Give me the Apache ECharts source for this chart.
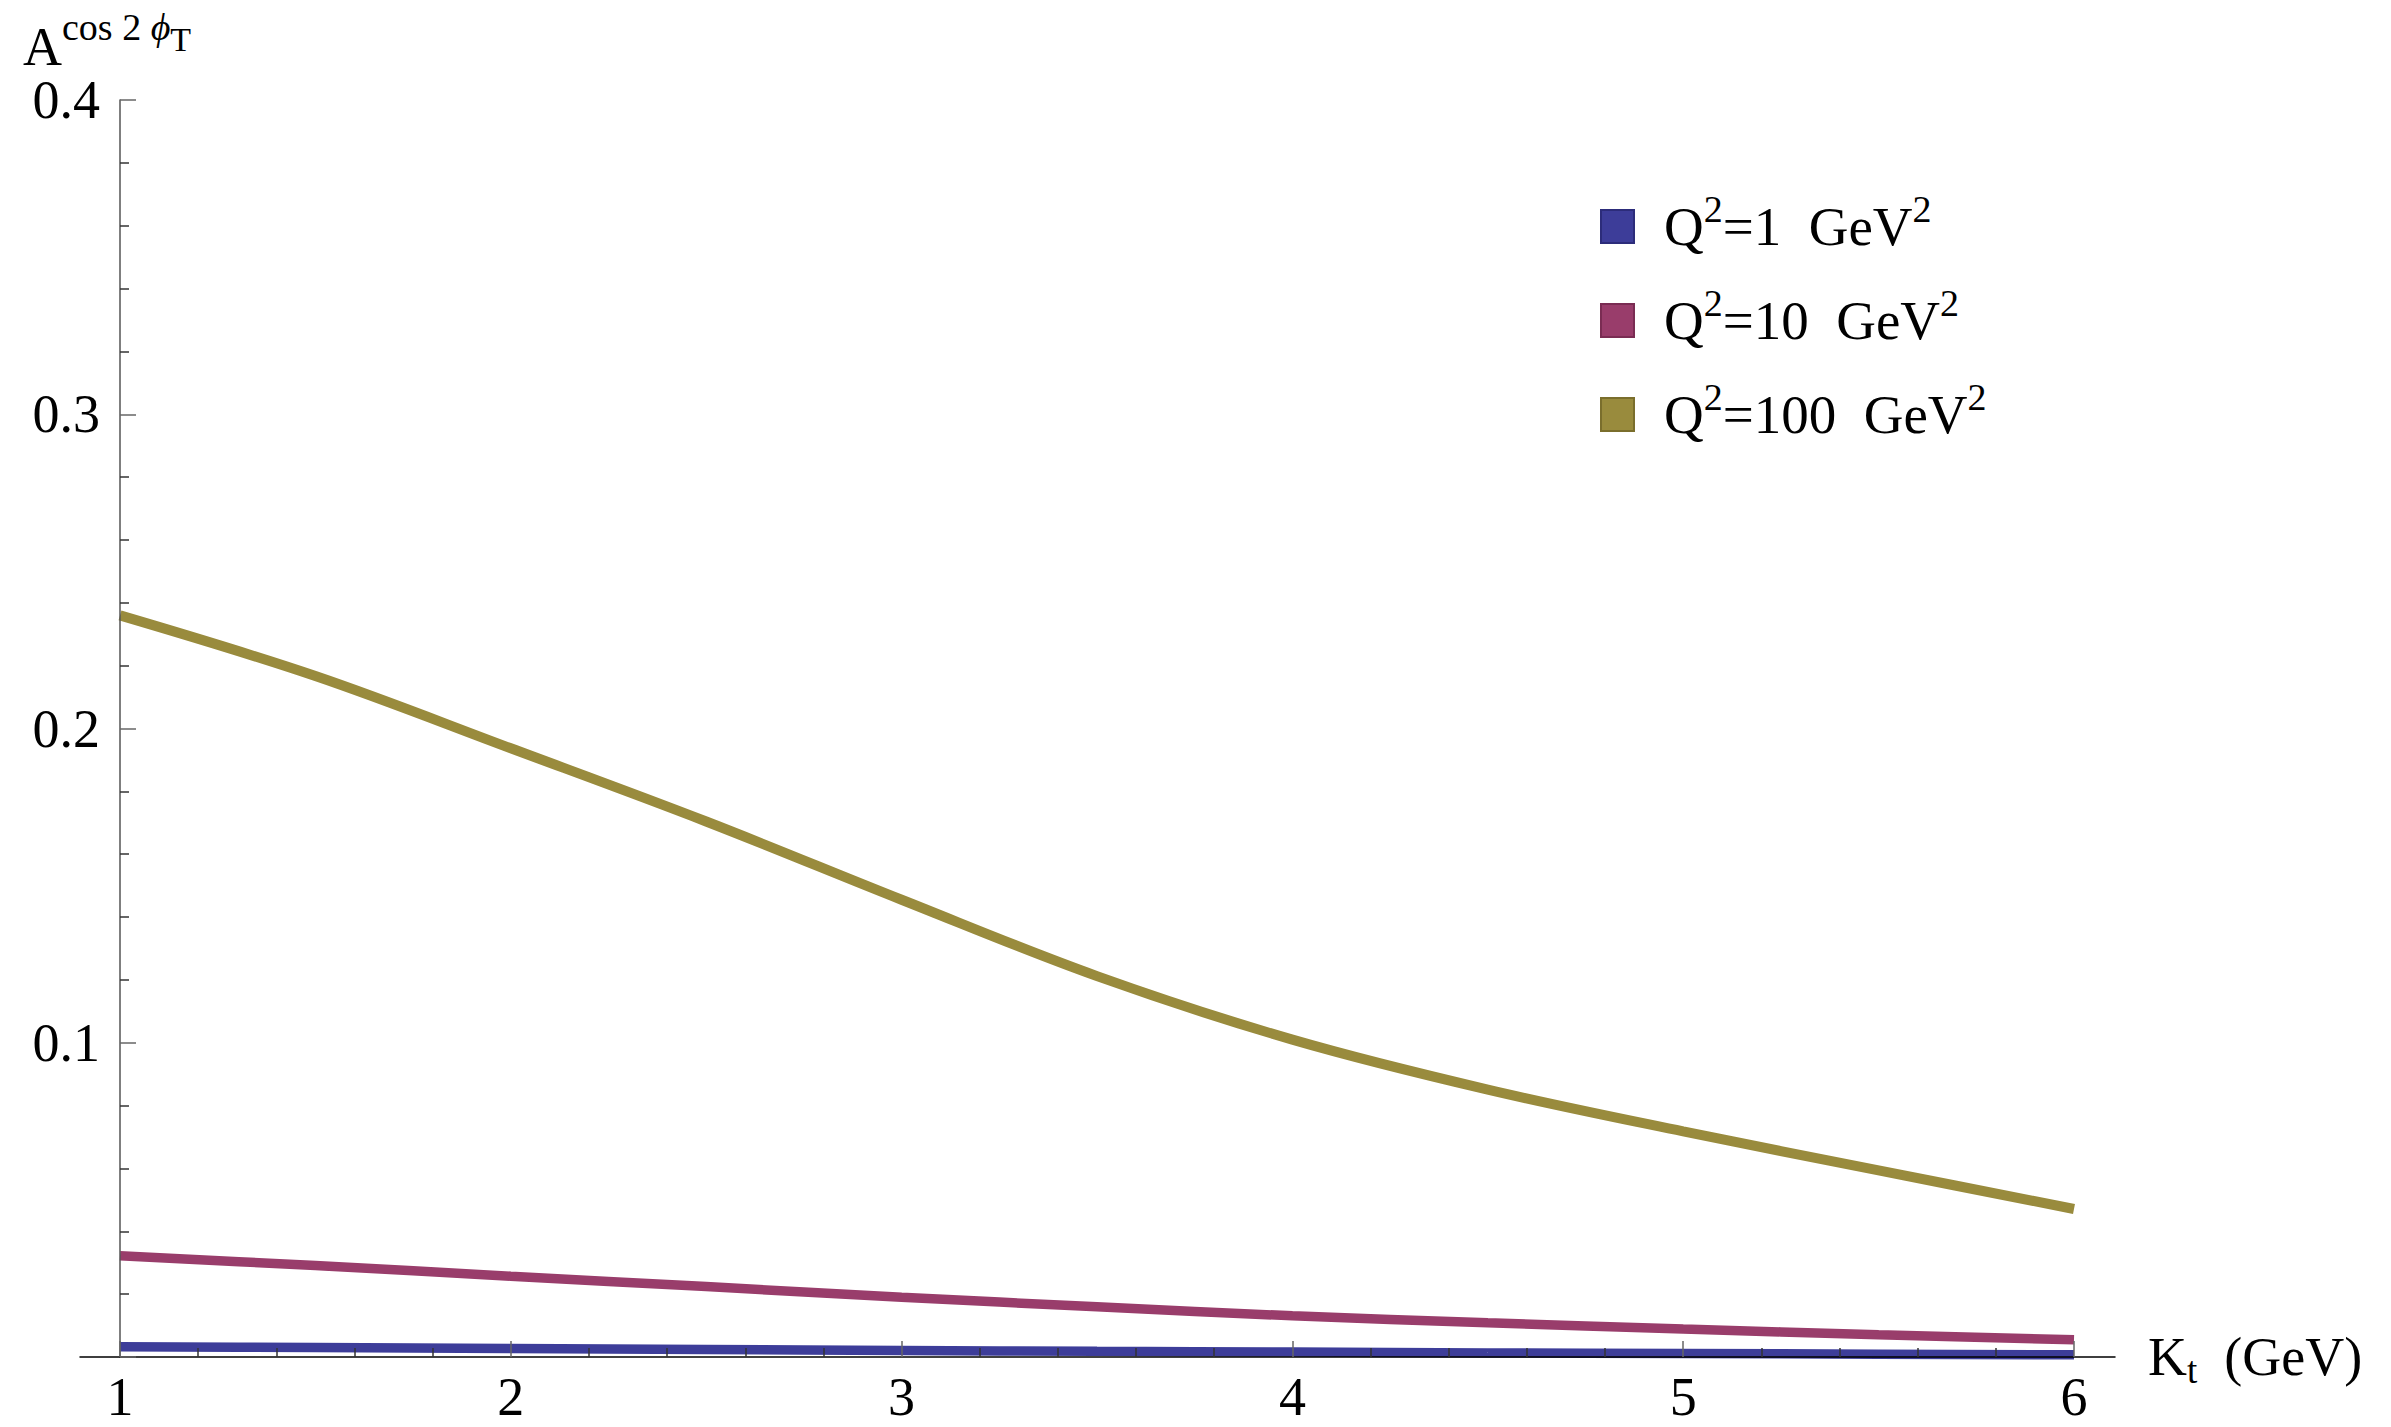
<!DOCTYPE html>
<html><head><meta charset="utf-8">
<script src="https://cdn.jsdelivr.net/npm/echarts@6/dist/echarts.min.js"></script>
<style>html,body{margin:0;padding:0;background:#fff}#c{width:2391px;height:1427px}</style>
</head><body><div id="c"></div>
<script>
// ---- data ----
const kt = [1, 1.5, 2, 2.5, 3, 3.5, 4, 4.5, 5, 5.5, 6];
const q2Values = [1, 10, 100];
const seriesNames = ['Q²=1 GeV²', 'Q²=10 GeV²', 'Q²=100 GeV²'];
const aQ1   = [0.0033, 0.0030, 0.0027, 0.0024, 0.0021, 0.0018, 0.0016, 0.0013, 0.0011, 0.0009, 0.0007];
const aQ10  = [0.0322, 0.0291, 0.0257, 0.0224, 0.0190, 0.0160, 0.0131, 0.0109, 0.0089, 0.0071, 0.0055];
const aQ100 = [0.2360, 0.2167, 0.1937, 0.1704, 0.1455, 0.1212, 0.1010, 0.0851, 0.0718, 0.0594, 0.0471];
const xTickValues = [1, 2, 3, 4, 5, 6];
const yTickValues = [0.1, 0.2, 0.3, 0.4];

// ---- styles ----
const FONT = 'Liberation Serif';
const colors = ['#3d3d99', '#993d6b', '#998b3d'];
const borders = ['#2c2c7a', '#7a2c53', '#7a6e2c'];
const widths = [9.5, 9.5, 10];

const chart = echarts.init(document.getElementById('c'), null, {renderer: 'svg'});

const seriesData = [aQ1, aQ10, aQ100];
const series = seriesData.map((arr, i) => ({
  name: seriesNames[i],
  type: 'line',
  xAxisIndex: 0, yAxisIndex: 0,
  data: kt.map((x, j) => [x, arr[j]]),
  showSymbol: false,
  smooth: 0.35,
  clip: false,
  color: colors[i],
  lineStyle: {width: widths[i], color: colors[i], cap: 'butt'},
  z: 2
}));

const base = {fontFamily: FONT, fontWeight: 'normal', color: '#000'};
const legendRich = {
  q: Object.assign({}, base, {fontSize: 55, lineHeight: 60, height: 60, padding: [0, 0, 0, 25]}),
  s: Object.assign({}, base, {fontSize: 38, lineHeight: 25, height: 25, verticalAlign: 'top'}),
  t: Object.assign({}, base, {fontSize: 55, lineHeight: 60, height: 60})
};

chart.setOption({
  animation: false,
  backgroundColor: '#fff',
  title: {
    text: '{a|A}{s|cos 2 }{p|ϕ}{t|T}',
    left: 23, top: 17, padding: 0,
    textStyle: {
      fontWeight: 'normal',
      rich: {
        a: Object.assign({}, base, {fontSize: 54, lineHeight: 60, height: 60}),
        s: Object.assign({}, base, {fontSize: 38, lineHeight: 20, height: 20, verticalAlign: 'top'}),
        p: Object.assign({}, base, {fontSize: 38, fontStyle: 'italic', lineHeight: 20, height: 20, verticalAlign: 'top'}),
        t: Object.assign({}, base, {fontSize: 34, lineHeight: 44, height: 44, verticalAlign: 'top'})
      }
    }
  },
  legend: {
    orient: 'vertical',
    left: 1600, top: 190, padding: 0,
    itemWidth: 33, itemHeight: 33, itemGap: 27.5,
    icon: 'rect',
    data: seriesNames.map((n, i) => ({
      name: n,
      itemStyle: {color: colors[i], borderColor: borders[i], borderWidth: 2}
    })),
    formatter: name => {
      const i = seriesNames.indexOf(name);
      return '{q|Q}{s|2}{t|=' + q2Values[i] + '  GeV}{s|2}';
    },
    textStyle: {rich: legendRich}
  },
  grid: [
    {left: 120, right: 317, top: 100, bottom: 70},
    {left: 80, right: 276, top: 100, bottom: 70}
  ],
  xAxis: [
    {
      type: 'value', gridIndex: 0, min: 1, max: 6, interval: 1, z: 3,
      axisLine: {show: false},
      axisTick: {show: true, inside: true, length: 16, lineStyle: {color: '#666', width: 1.5}},
      minorTick: {show: true, splitNumber: 5, length: 9, lineStyle: {color: '#333', width: 1.5}},
      splitLine: {show: false},
      axisLabel: {
        margin: 20, fontFamily: FONT, fontSize: 54, lineHeight: 40, color: '#000',
        showMinLabel: true, showMaxLabel: true,
        customValues: xTickValues
      }
    },
    {
      type: 'value', gridIndex: 1, min: 0, max: 1, z: 3,
      axisLine: {show: true, onZero: false, lineStyle: {color: '#000', width: 1.5}},
      axisTick: {show: false}, axisLabel: {show: false}, splitLine: {show: false},
      name: '{k|K}{t|t}{u|  (GeV)}',
      nameLocation: 'end', nameGap: 33,
      nameTextStyle: {
        align: 'left', verticalAlign: 'middle',
        rich: {
          k: Object.assign({}, base, {fontSize: 54, lineHeight: 60, height: 60}),
          t: Object.assign({}, base, {fontSize: 37, lineHeight: 33, height: 33, verticalAlign: 'bottom'}),
          u: Object.assign({}, base, {fontSize: 54, lineHeight: 60, height: 60})
        }
      }
    }
  ],
  yAxis: [
    {
      type: 'value', gridIndex: 0, min: 0, max: 0.4, interval: 0.1, z: 3,
      axisLine: {show: true, onZero: false, lineStyle: {color: '#555', width: 1.5}},
      axisTick: {show: true, inside: true, length: 16, lineStyle: {color: '#666', width: 1.5}},
      minorTick: {show: true, splitNumber: 5, length: 9, lineStyle: {color: '#333', width: 1.5}},
      splitLine: {show: false},
      axisLabel: {
        margin: 20, fontFamily: FONT, fontSize: 54, color: '#000',
        customValues: yTickValues,
        formatter: v => v.toFixed(1)
      }
    },
    {type: 'value', gridIndex: 1, min: 0, max: 1, show: false}
  ],
  series: series
});
</script>
</body></html>
